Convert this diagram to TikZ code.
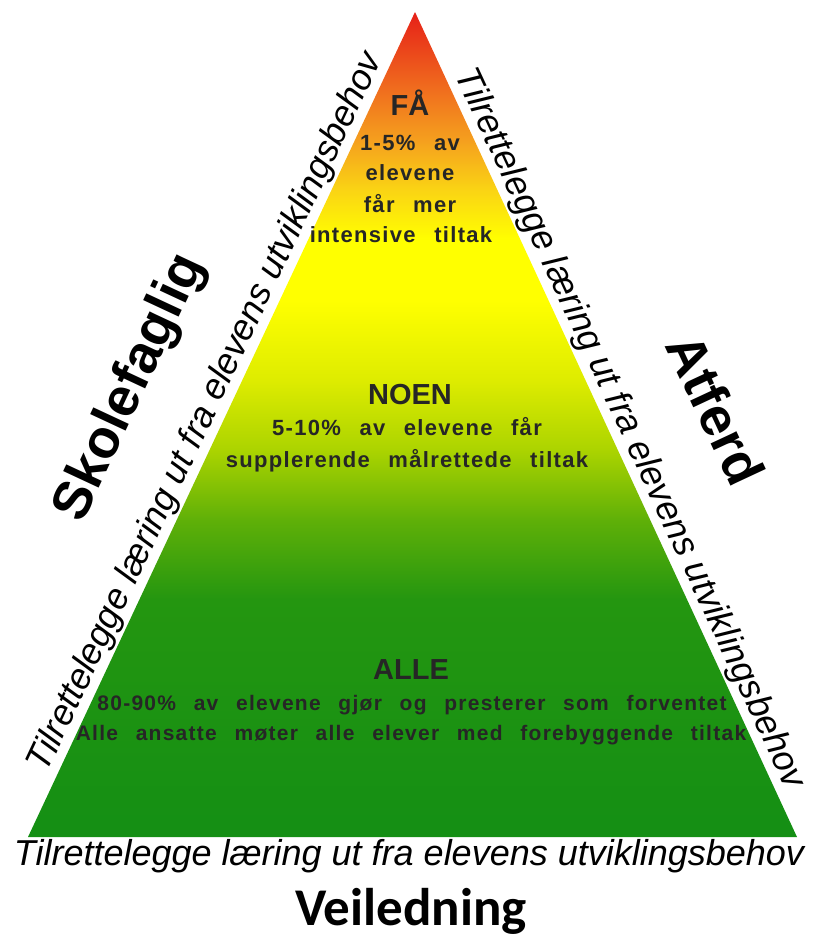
\documentclass[tikz,border=0pt]{standalone}
\usepackage{fontspec}
\setmainfont{Liberation Sans}
\newfontfamily\tierfont{Liberation Sans}[LetterSpace=6,WordSpace=2.5]
\newfontfamily\calfont{Carlito}
\pgfdeclarelayer{edgelayer}
\pgfdeclarelayer{nodelayer}
\pgfsetlayers{edgelayer,nodelayer,main}
\definecolor{pyrgreen}{RGB}{20,143,20}
\definecolor{pyrgreenb}{RGB}{36,150,16}
\definecolor{pyrlime}{RGB}{95,176,8}
\definecolor{pyrolive}{RGB}{172,212,0}
\definecolor{pyrpale}{RGB}{222,236,0}
\definecolor{pyryellow}{RGB}{255,255,0}
\definecolor{pyrgold}{RGB}{250,212,20}
\definecolor{pyrorange}{RGB}{245,160,30}
\definecolor{pyrdeep}{RGB}{240,110,30}
\definecolor{pyrred}{RGB}{230,32,24}
\pgfdeclareverticalshading{pyramid}{100bp}{color(0bp)=(pyrgreen); color(25bp)=(pyrgreen);
  color(39.4bp)=(pyrgreenb); color(44.2bp)=(pyrlime); color(48.5bp)=(pyrolive);
  color(52.7bp)=(pyrpale); color(57.5bp)=(pyryellow); color(61.2bp)=(pyryellow);
  color(64.2bp)=(pyrgold); color(67.2bp)=(pyrorange); color(70.3bp)=(pyrdeep);
  color(75bp)=(pyrred); color(100bp)=(pyrred)}
\tikzstyle{none}=[inner sep=0pt]
\tikzstyle{tier}=[inner sep=0pt,anchor=base,text=black!85,font=\tierfont\bfseries\fontsize{22}{24}\selectfont]
\tikzstyle{tierwide}=[style=tier,font=\tierfont\bfseries\fontsize{21}{24}\selectfont]
\tikzstyle{tierhead}=[inner sep=0pt,anchor=base,text=black!85,font=\bfseries\fontsize{29}{32}\selectfont]
\tikzstyle{side}=[inner sep=0pt,font=\itshape\fontsize{36}{40}\selectfont]
\tikzstyle{area}=[inner sep=0pt,font=\bfseries\fontsize{54}{60}\selectfont]

\begin{document}
\begin{tikzpicture}[x=1pt,y=-1pt]
	\useasboundingbox (0,0) rectangle (822,938);
	\begin{pgfonlayer}{nodelayer}
		\node [style=none] (0) at (28, 837) {};
		\node [style=none] (1) at (415, 12) {};
		\node [style=none] (2) at (797, 837) {};
		\node [style=tierhead] (3) at (410, 115) {FÅ};
		\node [style=tier] (4) at (410, 150) {1-5\% av};
		\node [style=tier] (5) at (410, 180) {elevene};
		\node [style=tier] (6) at (410, 212) {får mer};
		\node [style=tier] (7) at (401, 242) {intensive tiltak};
		\node [style=tierhead] (8) at (410, 404) {NOEN};
		\node [style=tier] (9) at (407, 435) {5-10\% av elevene får};
		\node [style=tier] (10) at (407, 467) {supplerende målrettede tiltak};
		\node [style=tierhead] (11) at (411, 679) {ALLE};
		\node [style=tierwide] (12) at (412, 710) {80-90\% av elevene gjør og presterer som forventet};
		\node [style=tierwide] (13) at (411, 740) {Alle ansatte møter alle elever med forebyggende tiltak};
		\node [style=side, anchor=base] (14) at (409, 865) {Tilrettelegge læring ut fra elevens utviklingsbehov};
		\node [style=none, anchor=base, font=\calfont\bfseries\fontsize{53}{60}\selectfont] (15) at (411, 925) {Veiledning};
		\node [style=area, rotate=65] (16) at (131, 388) {Skolefaglig};
		\node [style=area, rotate=-65] (17) at (716, 409) {Atferd};
	\end{pgfonlayer}
	\begin{pgfonlayer}{edgelayer}
		\shade [shading=pyramid] (0.center) to (1.center) to (2.center) -- cycle;
		\path (0.center) to node [style=side, sloped, above=2pt, pos=0.505] (18) {Tilrettelegge læring ut fra elevens utviklingsbehov} (1.center);
		\path (1.center) to node [style=side, sloped, above=2pt, pos=0.515] (19) {Tilrettelegge læring ut fra elevens utviklingsbehov} (2.center);
	\end{pgfonlayer}
\end{tikzpicture}
\end{document}
